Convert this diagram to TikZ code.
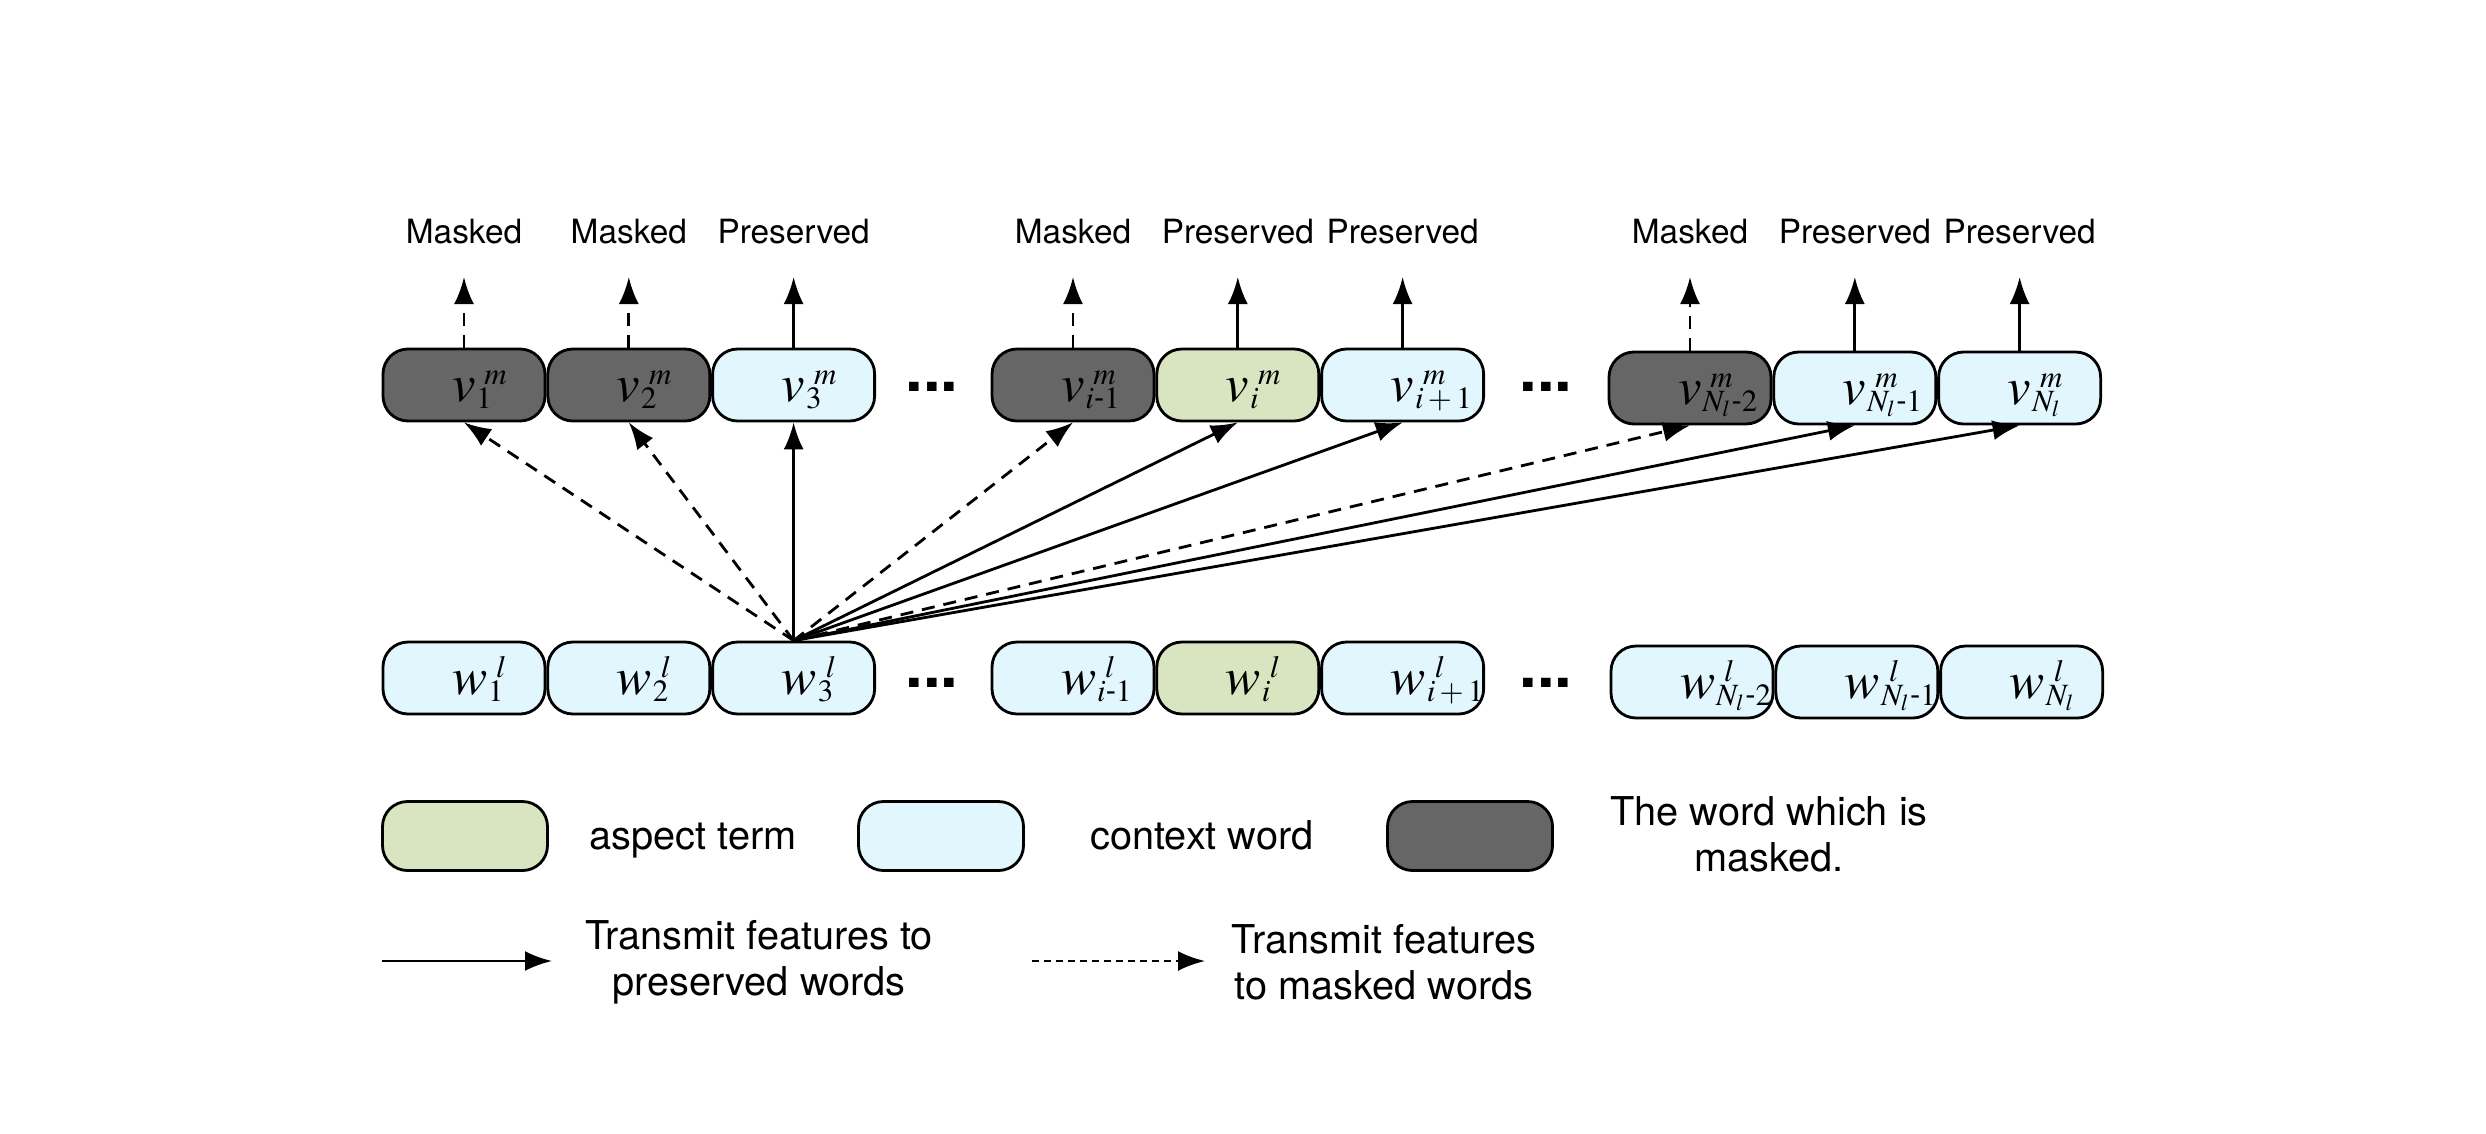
\documentclass[tikz,border=0pt]{standalone}
\usepackage{amsmath}
\usepackage{mathptmx}
\usepackage[no-math]{fontspec}
\setmainfont{TeX Gyre Heros}
\usepackage{tikz}
\usetikzlibrary{positioning,arrows.meta}

\definecolor{aspgreen}{HTML}{D9E4C0}
\definecolor{ctxblue}{HTML}{E2F6FD}
\definecolor{maskgray}{HTML}{666666}

% word with super- and subscript, set from the box centre
\newcommand{\tok}[3]{\makebox[0pt][l]{\kern-0.12cm\raisebox{-0.16cm}[0pt][0pt]{%
    $#1$\rlap{\kern0.09cm\raisebox{0.165cm}{\fontsize{8.8}{10}\selectfont$#2$}}%
    \kern0.01cm\raisebox{-0.075cm}{\fontsize{8.8}{10}\selectfont$#3$}}}}
\newcommand{\gapdots}{{\fontsize{18}{20}\selectfont\bfseries ...}}

\begin{document}
\begin{tikzpicture}[
            wbox/.style={draw, line width=0.8pt, rounded corners=0.25cm, minimum width=1.62cm,
                         minimum height=0.72cm, inner sep=0pt, font=\fontsize{15}{18}\selectfont},
            ctx/.style={wbox, fill=ctxblue},
            asp/.style={wbox, fill=aspgreen},
            msk/.style={wbox, fill=maskgray},
            key/.style={minimum width=1.65cm, minimum height=0.69cm},
            lbl/.style={font=\fontsize{9.5}{11}\selectfont},
            leg/.style={font=\fontsize{11.3}{13}\selectfont, align=center},
            pres/.style={line width=0.8pt, -{Latex[length=2.7mm,width=2mm]}},
            mask/.style={pres, dash pattern=on 1.3mm off 0.9mm}]
        \useasboundingbox (0,0) rectangle (24.86,11.33);
        \fill[white] (0,0) rectangle (24.86,11.33);

        % output row
        \node[msk] (v1) at (4.64,7.48) {\tok{v}{m}{1}};
        \node[msk, right=0pt of v1] (v2) {\tok{v}{m}{2}};
        \node[ctx, right=0pt of v2] (v3) {\tok{v}{m}{3}};
        \node (dots1) at (9.32,7.46) {\gapdots};
        \node[msk] (vi1) at (10.73,7.48) {\tok{v}{m}{i\text{-}1}};
        \node[asp, right=0pt of vi1] (vi) {\tok{v}{m}{i}};
        \node[ctx, right=0pt of vi] (vip) {\tok{v}{m}{i+1}};
        \node (dots2) at (15.46,7.46) {\gapdots};
        \node[msk] (vN2) at (16.90,7.45) {\tok{v}{m}{N_l\text{-}2}};
        \node[ctx, right=0pt of vN2] (vN1) {\tok{v}{m}{N_l\text{-}1}};
        \node[ctx, right=0pt of vN1] (vN) {\tok{v}{m}{N_l}};

        % input row
        \node[ctx] (w1) at (4.64,4.55) {\tok{w}{l}{1}};
        \node[ctx, right=0pt of w1] (w2) {\tok{w}{l}{2}};
        \node[ctx, right=0pt of w2] (w3) {\tok{w}{l}{3}};
        \node (dots3) at (9.32,4.50) {\gapdots};
        \node[ctx] (wi1) at (10.73,4.55) {\tok{w}{l}{i\text{-}1}};
        \node[asp, right=0pt of wi1] (wi) {\tok{w}{l}{i}};
        \node[ctx, right=0pt of wi] (wip) {\tok{w}{l}{i+1}};
        \node (dots4) at (15.46,4.50) {\gapdots};
        \node[ctx] (wN2) at (16.92,4.51) {\tok{w}{l}{N_l\text{-}2}};
        \node[ctx, right=0pt of wN2] (wN1) {\tok{w}{l}{N_l\text{-}1}};
        \node[ctx, right=0pt of wN1] (wN) {\tok{w}{l}{N_l}};

        % features sent out of w_3
        \foreach \t in {v1,v2,vi1,vN2}
            \draw[mask] (w3.north) -- (\t.south);
        \foreach \t in {v3,vi,vip,vN1,vN}
            \draw[pres] (w3.north) -- (\t.south);

        % kept or masked
        \coordinate (tip) at (0,8.56);
        \coordinate (top) at (0,9.01);
        \foreach \b in {v1,v2,vi1,vN2} {
            \draw[mask] (\b.north) -- (\b |- tip);
            \node[lbl] (lab-\b) at (\b |- top) {Masked};
        }
        \foreach \b in {v3,vi,vip,vN1,vN} {
            \draw[pres] (\b.north) -- (\b |- tip);
            \node[lbl] (lab-\b) at (\b |- top) {Preserved};
        }

        % legend
        \node[asp, key] (kasp) at (4.65,2.97) {};
        \node[leg, anchor=base] (tasp) at (6.93,2.84) {aspect term};
        \node[ctx, key] (kctx) at (9.41,2.97) {};
        \node[leg, anchor=base] (tctx) at (12.02,2.84) {context word};
        \node[msk, key] (kmsk) at (14.70,2.97) {};
        \node[leg] (tmsk) at (17.69,2.99) {The word which is\\masked.};

        \coordinate (s1) at (3.82,1.72);
        \coordinate (e1) at (5.52,1.72);
        \draw[pres] (s1) -- (e1);
        \node[leg] (tpres) at (7.59,1.71) {Transmit features to\\preserved words};
        \coordinate (s2) at (10.32,1.72);
        \coordinate (e2) at (12.05,1.72);
        \draw[mask, dash pattern=on 0.7mm off 0.5mm] (s2) -- (e2);
        \node[leg] (tmask) at (13.84,1.71) {Transmit features\\to masked words};
    \end{tikzpicture}
\end{document}
